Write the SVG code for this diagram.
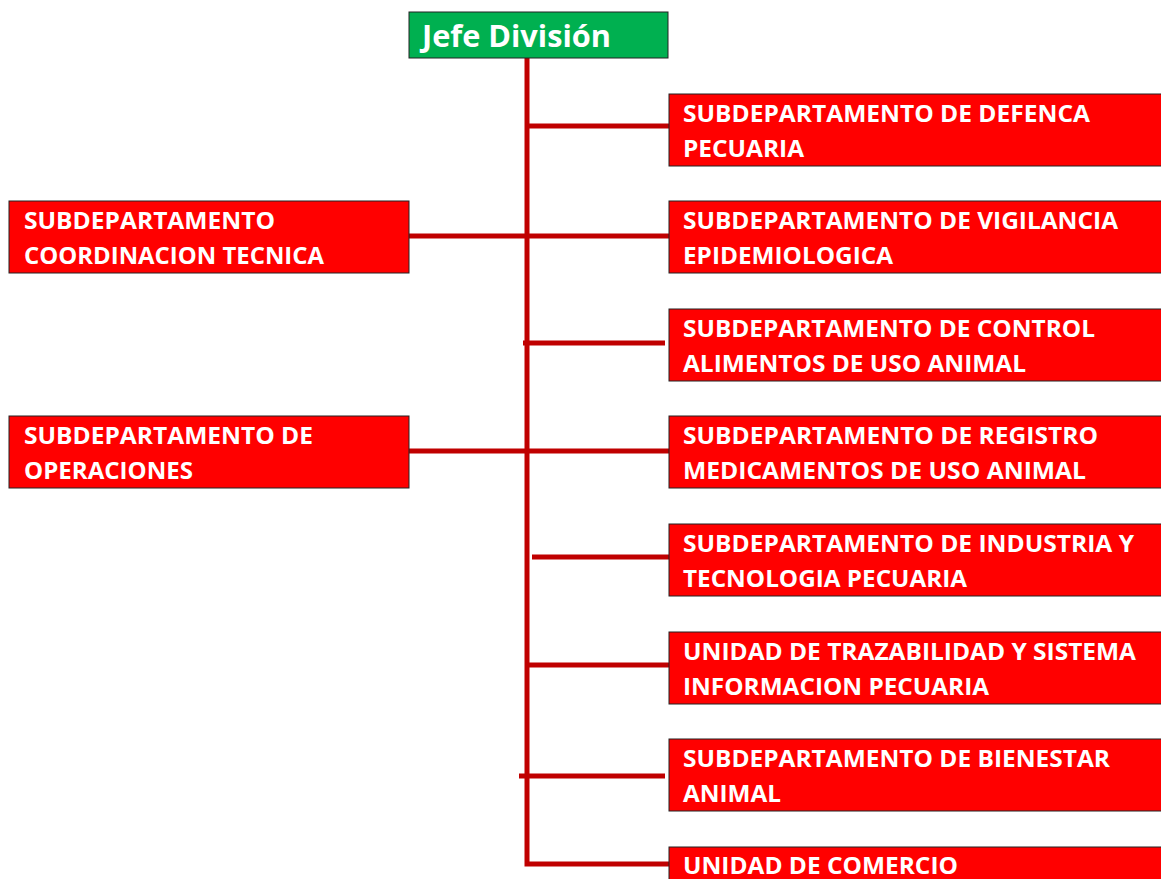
<svg xmlns="http://www.w3.org/2000/svg" width="1161" height="879" viewBox="0 0 1161 879">
<style>
.box{fill:#FF0000;stroke:#222;stroke-width:1}
.t{fill:#fff;font-family:"Open Sans","Noto Sans",sans-serif;font-weight:bold;font-size:23px}
.ln{stroke:#C00000;stroke-width:5;fill:none}
</style>
<rect width="1161" height="879" fill="#fff"/>
<g id="connectors">
<path class="ln" d="M527,58 V864 H669"/>
<path class="ln" d="M526,126 H669"/>
<path class="ln" d="M409,236 H669"/>
<path class="ln" d="M523,343 H665"/>
<path class="ln" d="M409,451 H669"/>
<path class="ln" d="M532,557 H675"/>
<path class="ln" d="M528,665 H669"/>
<path class="ln" d="M519,776 H665"/>
</g>
<g id="jefe">
<rect x="409" y="12" width="259" height="46" fill="#00B050" stroke="#222" stroke-width="1"/>
<text class="t" x="422" y="47" style="font-size:30px" textLength="189" lengthAdjust="spacingAndGlyphs">Jefe División</text>
</g>
<g id="n1">
<rect class="box" x="669" y="94" width="500" height="72"/>
<text class="t" x="683" y="122" textLength="407" lengthAdjust="spacingAndGlyphs">SUBDEPARTAMENTO DE DEFENCA</text>
<text class="t" x="683" y="157" textLength="121" lengthAdjust="spacingAndGlyphs">PECUARIA</text>
</g>
<g id="n2">
<rect class="box" x="669" y="201" width="500" height="72"/>
<text class="t" x="683" y="229" textLength="435" lengthAdjust="spacingAndGlyphs">SUBDEPARTAMENTO DE VIGILANCIA</text>
<text class="t" x="683" y="264" textLength="210" lengthAdjust="spacingAndGlyphs">EPIDEMIOLOGICA</text>
</g>
<g id="n3">
<rect class="box" x="669" y="309" width="500" height="72"/>
<text class="t" x="683" y="337" textLength="412" lengthAdjust="spacingAndGlyphs">SUBDEPARTAMENTO DE CONTROL</text>
<text class="t" x="683" y="372" textLength="343" lengthAdjust="spacingAndGlyphs">ALIMENTOS DE USO ANIMAL</text>
</g>
<g id="n4">
<rect class="box" x="669" y="416" width="500" height="72"/>
<text class="t" x="683" y="444" textLength="415" lengthAdjust="spacingAndGlyphs">SUBDEPARTAMENTO DE REGISTRO</text>
<text class="t" x="683" y="479" textLength="403" lengthAdjust="spacingAndGlyphs">MEDICAMENTOS DE USO ANIMAL</text>
</g>
<g id="n5">
<rect class="box" x="669" y="524" width="500" height="72"/>
<text class="t" x="683" y="552" textLength="451" lengthAdjust="spacingAndGlyphs">SUBDEPARTAMENTO DE INDUSTRIA Y</text>
<text class="t" x="683" y="587" textLength="284" lengthAdjust="spacingAndGlyphs">TECNOLOGIA PECUARIA</text>
</g>
<g id="n6">
<rect class="box" x="669" y="632" width="500" height="72"/>
<text class="t" x="683" y="660" textLength="453" lengthAdjust="spacingAndGlyphs">UNIDAD DE TRAZABILIDAD Y SISTEMA</text>
<text class="t" x="683" y="695" textLength="306" lengthAdjust="spacingAndGlyphs">INFORMACION PECUARIA</text>
</g>
<g id="n7">
<rect class="box" x="669" y="739" width="500" height="72"/>
<text class="t" x="683" y="767" textLength="427" lengthAdjust="spacingAndGlyphs">SUBDEPARTAMENTO DE BIENESTAR</text>
<text class="t" x="683" y="802" textLength="98" lengthAdjust="spacingAndGlyphs">ANIMAL</text>
</g>
<g id="n8">
<rect class="box" x="669" y="847" width="500" height="72"/>
<text class="t" x="683" y="874" textLength="275" lengthAdjust="spacingAndGlyphs">UNIDAD DE COMERCIO</text>
</g>
<g id="l1">
<rect class="box" x="9" y="201" width="400" height="72"/>
<text class="t" x="24" y="229" textLength="251" lengthAdjust="spacingAndGlyphs">SUBDEPARTAMENTO</text>
<text class="t" x="24" y="264" textLength="300" lengthAdjust="spacingAndGlyphs">COORDINACION TECNICA</text>
</g>
<g id="l2">
<rect class="box" x="9" y="416" width="400" height="72"/>
<text class="t" x="24" y="444" textLength="289" lengthAdjust="spacingAndGlyphs">SUBDEPARTAMENTO DE</text>
<text class="t" x="24" y="479" textLength="169" lengthAdjust="spacingAndGlyphs">OPERACIONES</text>
</g>
</svg>
